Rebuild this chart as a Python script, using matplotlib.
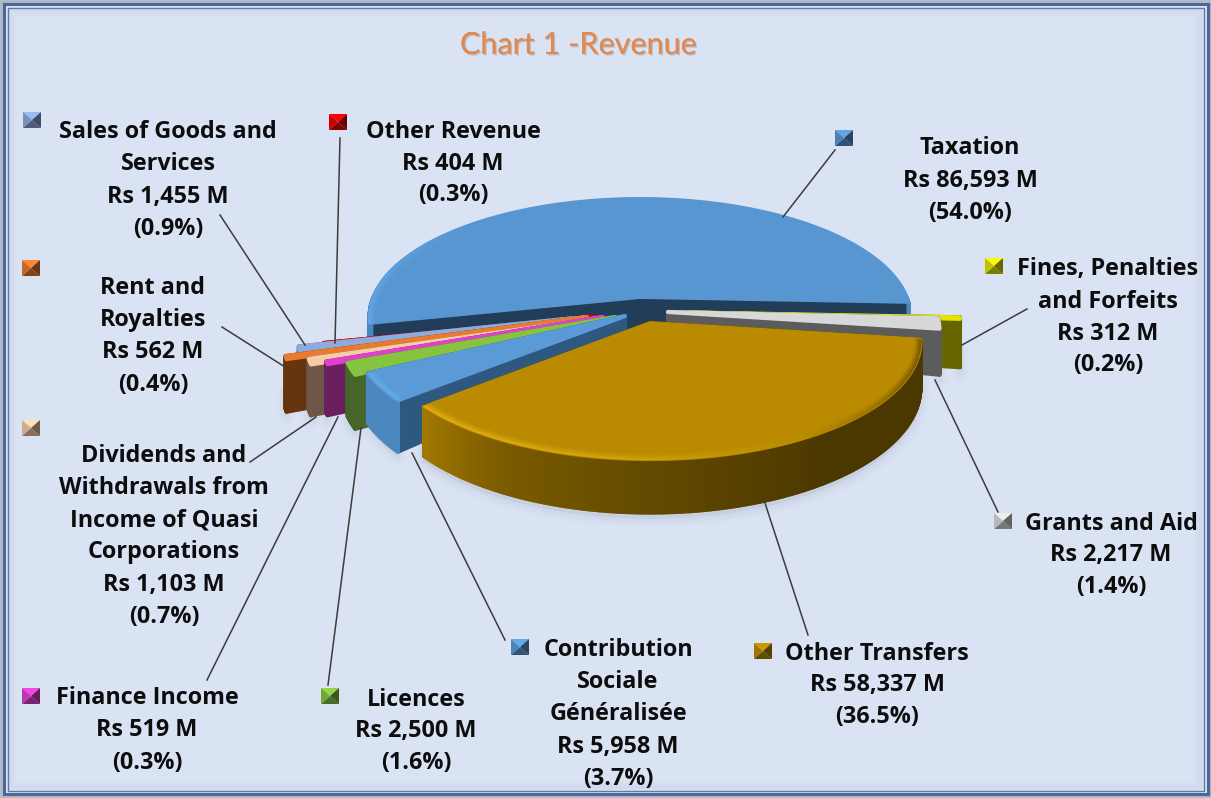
import numpy as np
import matplotlib
matplotlib.use('Agg')
import matplotlib.pyplot as plt
import matplotlib.colors as mcolors
import matplotlib.patheffects as pe
from matplotlib.patches import Polygon, Rectangle

# chart data, clockwise from Taxation
categories = ['Taxation', 'Fines', 'Grants', 'Other Transfers', 'CSG', 'Licences',
              'Finance Income', 'Dividends', 'Rent', 'Sales', 'Other Revenue']
values = [86593, 312, 2217, 58337, 5958, 2500, 519, 1103, 562, 1455, 404]

label_lines = [
    ['Taxation', 'Rs 86,593 M', '(54.0%)'],
    ['Fines, Penalties', 'and Forfeits', 'Rs 312 M', '(0.2%)'],
    ['Grants and Aid', 'Rs 2,217 M', '(1.4%)'],
    ['Other Transfers', 'Rs 58,337 M', '(36.5%)'],
    ['Contribution', 'Sociale', 'Généralisée', 'Rs 5,958 M', '(3.7%)'],
    ['Licences', 'Rs 2,500 M', '(1.6%)'],
    ['Finance Income', 'Rs 519 M', '(0.3%)'],
    ['Dividends and', 'Withdrawals from', 'Income of Quasi', 'Corporations', 'Rs 1,103 M', '(0.7%)'],
    ['Rent and', 'Royalties', 'Rs 562 M', '(0.4%)'],
    ['Sales of Goods and', 'Services', 'Rs 1,455 M', '(0.9%)'],
    ['Other Revenue', 'Rs 404 M', '(0.3%)'],
]

# styling, same order as the data
top_colors = ['#5896d2', '#e4e400', '#d8d8d8', '#ba8b00', '#5a9ad6', '#86c440',
              '#e03fd0', '#f6cba8', '#ea7a2e', '#8dabdc', '#f00000']
edge_wall = ['#223d57', '#666600', '#5c5c5c', '#4b3700', '#2f5880', '#466628',
             '#6b1f60', '#6e5747', '#66350f', '#5a6f98', '#990000']
arc_wall = ['#4a86bf', '#666600', '#5c5c5c', '#4b3700', '#4c86bf', '#466628',
            '#6b1f60', '#6e5747', '#66350f', '#5a6f98', '#990000']
apex = [(640, 298), (690, 312.5), (668, 312), (650, 322), (625, 316), (615, 317),
        (603, 317), (593, 319), (587, 317), (575, 318), (595, 317)]
radius_scale = [1, 1, 1, 1, 1, 1.01, 1.04, 1.06, 1.12, 1.02, 1]
slice_depth = [45, 48, 45, 45, 46, 50, 48, 48, 50, 45, 45]
draw_order = [0, 1, 2, 10, 9, 8, 7, 6, 5, 4, 3]

label_pos = [(970, 148.5), (1108, 269.5), (1111, 523.5), (877, 653.5), (618, 650.5), (416, 699.5),
             (147, 698.5), (164, 456.5), (153, 288.5), (168, 132.5), (453, 131.5)]
key_pos = [(844, 138), (994, 266), (1003, 521), (763, 651), (520, 647), (330, 696),
           (31, 696), (31, 428), (31, 268), (32, 120), (338, 122)]
leaders = [[(835, 150), (783, 217)], [(1027, 309), (962, 345)], [(998, 512), (935, 380)],
           [(808, 635), (764, 500)], [(505, 640), (412, 453)], [(328, 685), (361, 428)],
           [(207, 680), (338, 417)], [(250, 462), (316, 417)], [(222, 327), (285, 367)],
           [(220, 215), (305, 345)], [(340, 138), (335, 343)]]

START_ANGLE = 192.5
RX, RY, PERSP = 268, 116, 0.16
BG = '#dae3f3'

plt.rcParams['font.family'] = ['Open Sans', 'DejaVu Sans']

fig = plt.figure(figsize=(12.11, 7.98), dpi=100, facecolor=BG)
ax = fig.add_axes([0, 0, 1, 1])
ax.set_xlim(0, 1211)
ax.set_ylim(798, 0)
ax.axis('off')

z = [1]


def add(patch):
    patch.set_zorder(z[0])
    z[0] += 1
    ax.add_patch(patch)


def project(i, theta, drop=False):
    t = np.radians(theta)
    u, v = np.cos(t), np.sin(t)
    k = 1 / (1 + PERSP * v)
    s = radius_scale[i]
    x = apex[i][0] + RX * s * u * k
    y = apex[i][1] - RY * s * v * k
    if drop:
        y = y + slice_depth[i] * k
    return x, y


def project_apex(i, drop=False):
    return apex[i][0], apex[i][1] + (slice_depth[i] * 0.8 if drop else 0)


def mix(stops, theta):
    angles = [a for a, c in stops]
    rgb = np.array([mcolors.to_rgb(c) for a, c in stops])
    return tuple(np.interp(theta, angles, rgb[:, n]) for n in range(3))


# frame
for inset, alpha in [(14, 0.04), (12, 0.05), (10, 0.07)]:
    add(Rectangle((inset, inset), 1211 - 2 * inset, 798 - 2 * inset, fill=False,
                  ec='#8ea6cf', lw=3, alpha=alpha))
add(Rectangle((1, 1), 1209, 796, fill=False, ec='#aeb7c4', lw=2))
add(Rectangle((3.5, 4), 1204, 790, fill=False, ec='#4a6797', lw=2.2))
add(Rectangle((8, 8), 1196, 783, fill=False, ec='#5d7aa8', lw=1.0))

# slice angles from the values, clockwise
total = sum(values)
sweeps = [val / total * 360 for val in values]
starts = [START_ANGLE - sum(sweeps[:n]) for n in range(len(values))]
ends = [s - w for s, w in zip(starts, sweeps)]

wall_stops = {3: [(-139.2, '#a27800'), (-118, '#7a5b00'), (-90, '#634a00'),
                  (-55, '#4b3700'), (-7, '#4b3700')]}
rim_stops = {3: [(-139.2, '#f0bc1c'), (-100, '#e0ae10'), (-60, '#b98b00'),
                 (-30, '#705400'), (-7, '#5d4600')],
             0: [(-2, '#5896d2'), (130, '#5896d2'), (165, '#60a6e4'), (193, '#66b2ee')],
             4: [(-153, '#66b4f0'), (-139, '#66b4f0')]}

# soft shadow below the pie
for i in draw_order:
    angs = np.linspace(starts[i], ends[i], 40)
    angs = angs[np.sin(np.radians(angs)) < 0.02]
    if len(angs) < 2:
        continue
    pts = [project(i, a, True) for a in angs]
    pts = [(x, y + 5) for x, y in pts]
    pts += [(x, y - 20) for x, y in reversed(pts)]
    for lw, alpha in [(12, 0.03), (8, 0.04), (4, 0.05)]:
        add(Polygon(pts, closed=True, fc='#8b96a8', ec='#8b96a8', lw=lw, alpha=alpha, joinstyle='round'))

# the slices, back to front
for i in draw_order:
    a0, a1 = starts[i], ends[i]
    angs = np.linspace(a0, a1, max(8, int(sweeps[i] * 2)))
    round_lw = 3.0 if sweeps[i] < 20 else 1.4

    # flat walls along both straight edges, the nearer one last
    edges = sorted([a0, a1], key=lambda a: -np.sin(np.radians(a)))
    for a in edges:
        quad = [project_apex(i), project(i, a), project(i, a, True), project_apex(i, True)]
        add(Polygon(quad, closed=True, fc=edge_wall[i], ec=edge_wall[i], lw=round_lw, joinstyle='round'))

    # outer wall, only where it faces the viewer
    stops = wall_stops.get(i, [(-400, arc_wall[i]), (400, arc_wall[i])])
    for b0, b1 in zip(angs[:-1], angs[1:]):
        if np.sin(np.radians((b0 + b1) / 2)) >= 0.01:
            continue
        quad = [project(i, b0), project(i, b1), project(i, b1, True), project(i, b0, True)]
        col = mix(stops, (b0 + b1) / 2 if (b0 + b1) / 2 < 181 else (b0 + b1) / 2 - 360)
        add(Polygon(quad, closed=True, fc=col, ec=col, lw=round_lw, joinstyle='round'))

    # top face
    top = [project_apex(i)] + [project(i, a) for a in angs]
    top_patch = Polygon(top, closed=True, fc=top_colors[i], ec=top_colors[i], lw=round_lw, joinstyle='round')
    add(top_patch)

    # soft lighter rim on the bevel, kept inside the top face
    stops = rim_stops.get(i)
    if stops is not None:
        for lw, alpha in [(9, 0.2), (6, 0.3), (3, 0.5)]:
            for b0, b1 in zip(angs[:-1], angs[1:]):
                col = mix(stops, (b0 + b1) / 2)
                xs, ys = zip(project(i, b0), project(i, b1))
                seg, = ax.plot(xs, ys, color=col, lw=lw, alpha=alpha, solid_capstyle='butt', zorder=z[0])
                seg.set_clip_path(top_patch)
        z[0] += 1

# leader lines
for seg in leaders:
    xs, ys = zip(*seg)
    ax.plot(xs, ys, color='#3c3c3c', lw=1.1, zorder=z[0])
z[0] += 1

# legend keys, little pyramids
KW, KH = 9, 8
for i, (cx, cy) in enumerate(key_pos):
    base = np.array(mcolors.to_rgb(top_colors[i]))
    corners = [(cx - KW, cy - KH), (cx + KW, cy - KH), (cx + KW, cy + KH), (cx - KW, cy + KH)]
    shades = [1.1, 0.45, 0.55, 0.85]
    for n, shade in enumerate(shades):
        tri = [corners[n], corners[(n + 1) % 4], (cx, cy)]
        add(Polygon(tri, closed=True, fc=np.clip(base * shade, 0, 1), lw=0))

# labels, one text per line
LINE_H = 32
for lines, (cx, cy) in zip(label_lines, label_pos):
    for n, line in enumerate(lines):
        ax.text(cx, cy + n * LINE_H, line, ha='center', va='center', fontsize=16.8,
                fontweight='bold', color='#0d0d0d', zorder=z[0])

ax.text(578, 45, 'Chart 1 -Revenue', ha='center', va='center', fontsize=22, color='#e08a52',
        family=['Lato', 'DejaVu Sans'], zorder=z[0],
        path_effects=[pe.withSimplePatchShadow(offset=(1, -1), shadow_rgbFace='#8a8a8a', alpha=0.4), pe.Normal()])

fig.savefig('out.png', dpi=100, facecolor=BG)
